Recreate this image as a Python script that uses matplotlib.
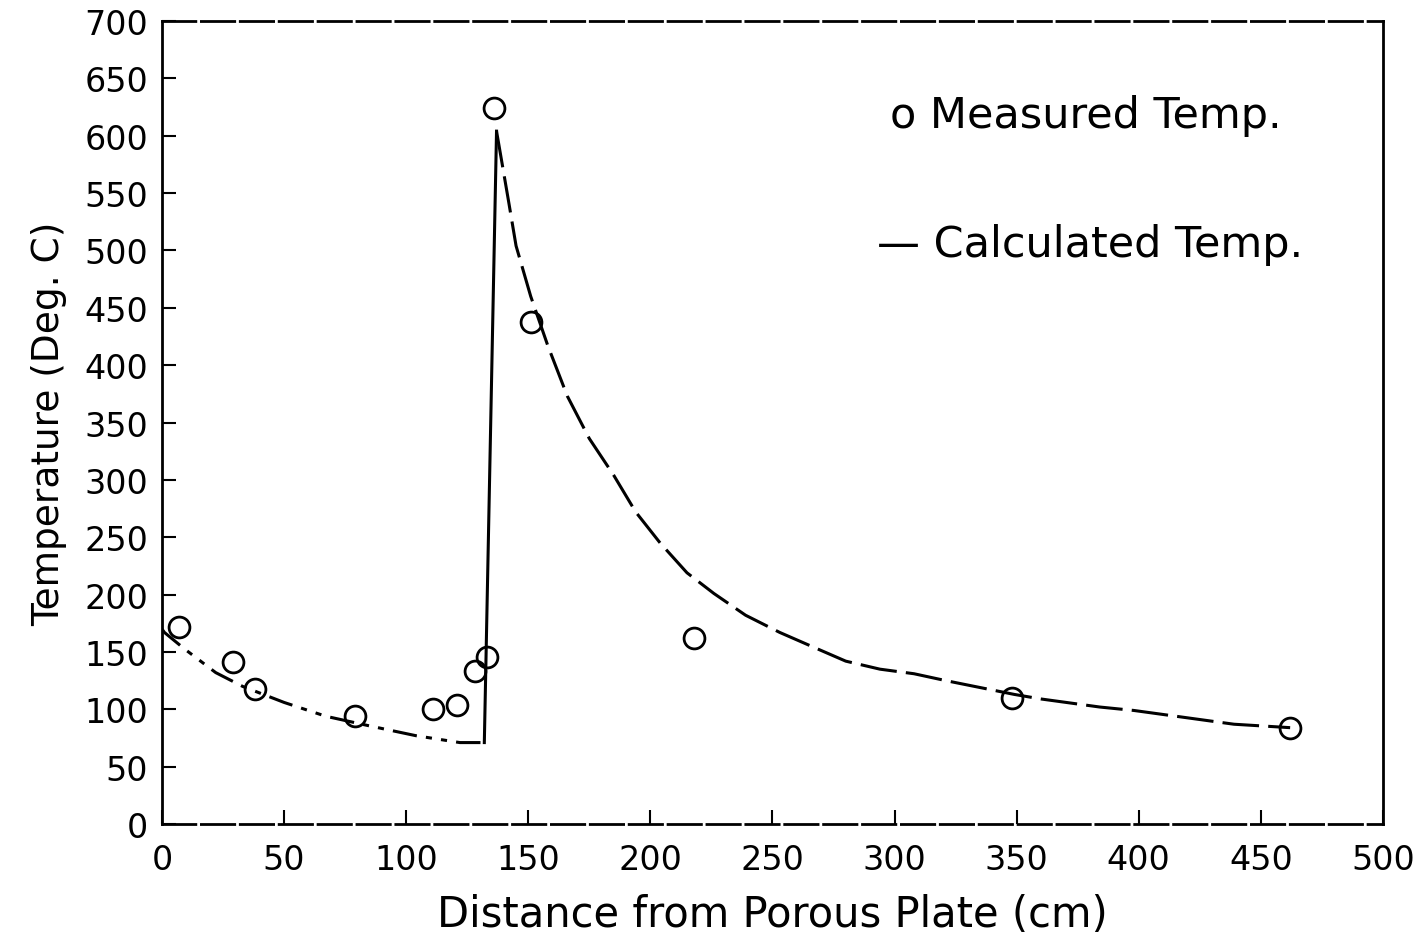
import matplotlib
matplotlib.use("Agg")
import matplotlib.pyplot as plt

# Measured temperatures (distance cm, temp deg C)
meas_x = [7, 29, 38, 79, 111, 121, 128, 133, 136, 151, 218, 348, 462]
meas_y = [172, 141, 118, 94, 100, 104, 133, 146, 624, 438, 162, 110, 84]

# Calculated temperature, upstream of the front
calc_up_x = [0, 1, 9, 22, 33, 50, 67, 84, 104, 122, 132]
calc_up_y = [170, 167, 153, 132, 120, 106, 94, 86, 77, 71, 71]

# Calculated temperature, front jump and decay
calc_dn_x = [132, 137, 142, 145, 151, 158, 166, 175, 185, 194, 204, 215, 226, 239,
             253, 267, 280, 294, 308, 321, 335, 349, 360, 384, 398, 439, 462]
calc_dn_y = [71, 604, 542, 504, 460, 417, 373, 336, 304, 272, 245, 219, 201, 182,
             167, 154, 142, 135, 131, 125, 119, 113, 109, 102, 99, 87, 84]

plt.figure(figsize=(14.26, 9.37), dpi=100)
ax = plt.axes([0.1136, 0.1195, 0.8562, 0.857])

ax.plot(calc_up_x, calc_up_y, color='black', lw=2.2, linestyle=(0, (8, 3, 2, 3, 2, 3)))
ax.plot(calc_dn_x[:2], calc_dn_y[:2], color='black', lw=2.2)
ax.plot(calc_dn_x[1:], calc_dn_y[1:], color='black', lw=2.2, linestyle=(0, (12, 3)))
ax.plot(meas_x, meas_y, 'o', mfc='none', mec='black', mew=2, ms=15)

ax.set_xlim(0, 500)
ax.set_ylim(0, 700)
ax.set_xticks(range(0, 501, 50))
ax.set_yticks(range(0, 701, 50))
ax.tick_params(direction='in', length=10, width=1.5, labelsize=24, pad=10)
ax.tick_params(axis='x', pad=14)
for s in ax.spines.values():
    s.set_linewidth(2)
ax.spines['bottom'].set_linestyle((0, (12, 2)))
ax.spines['top'].set_linestyle((0, (12, 2)))

ax.set_xlabel('Distance from Porous Plate (cm)', fontsize=30, labelpad=12)
ax.set_ylabel('Temperature (Deg. C)', fontsize=27, labelpad=12)

ax.text(298, 618, 'o Measured Temp.', fontsize=31, va='center')
ax.text(293, 506, '— Calculated Temp.', fontsize=31, va='center')

plt.savefig('out.png', dpi=100)
